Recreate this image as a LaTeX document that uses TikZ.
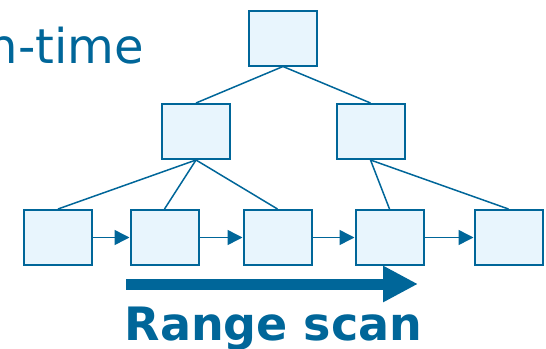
\documentclass[tikz,border=0pt]{standalone}
\usepackage{fontspec}
\setmainfont{DejaVu Sans}
\usetikzlibrary{arrows.meta}
\definecolor{dblue}{RGB}{0,102,153}
\definecolor{lblue}{RGB}{232,245,253}
\begin{document}
\begin{tikzpicture}[x=1pt,y=-1pt,
  pagebox/.style={draw=dblue,fill=lblue,line width=2pt,minimum width=68pt,minimum height=55pt,inner sep=0pt},
  edge/.style={draw=dblue,line width=1.5pt},
  nextarrow/.style={draw=dblue,line width=1.5pt,-{Triangle[length=15pt,width=15pt]}},
  bigarrow/.style={draw=dblue,line width=11pt,-{Triangle[length=35pt,width=34pt]}}]
\useasboundingbox (0,0) rectangle (546,348);
\node[pagebox] (root) at (283,38) {};
\node[pagebox] (iL) at (196,131.5) {};
\node[pagebox] (iR) at (370.5,131.5) {};
\node[pagebox] (l1) at (58,237.5) {};
\node[pagebox] (l2) at (164.5,237.5) {};
\node[pagebox] (l3) at (277.5,237.5) {};
\node[pagebox] (l4) at (389.5,237.5) {};
\node[pagebox] (l5) at (508.5,237.5) {};
\draw[edge] (root.south) -- (iL.north);
\draw[edge] (root.south) -- (iR.north);
\draw[edge] (iL.south) -- (l1.north);
\draw[edge] (iL.south) -- (l2.north);
\draw[edge] (iL.south) -- (l3.north);
\draw[edge] (iR.south) -- (l4.north);
\draw[edge] (iR.south) -- (l5.north);
\draw[nextarrow] (l1) -- (l2);
\draw[nextarrow] (l2) -- (l3);
\draw[nextarrow] (l3) -- (l4);
\draw[nextarrow] (l4) -- (l5);
\coordinate (rs1) at (126,284);
\coordinate (rs2) at (418,284);
\draw[bigarrow] (rs1) -- (rs2);
\node[text=dblue,anchor=base west,inner sep=0pt,font=\fontsize{48}{58}\selectfont] (title) at (-12.5,63) {n-time};
\node[text=dblue,anchor=base,inner sep=0pt,font=\fontsize{46}{55}\selectfont\bfseries] (scan) at (273.5,340) {Range scan};
\end{tikzpicture}
\end{document}
